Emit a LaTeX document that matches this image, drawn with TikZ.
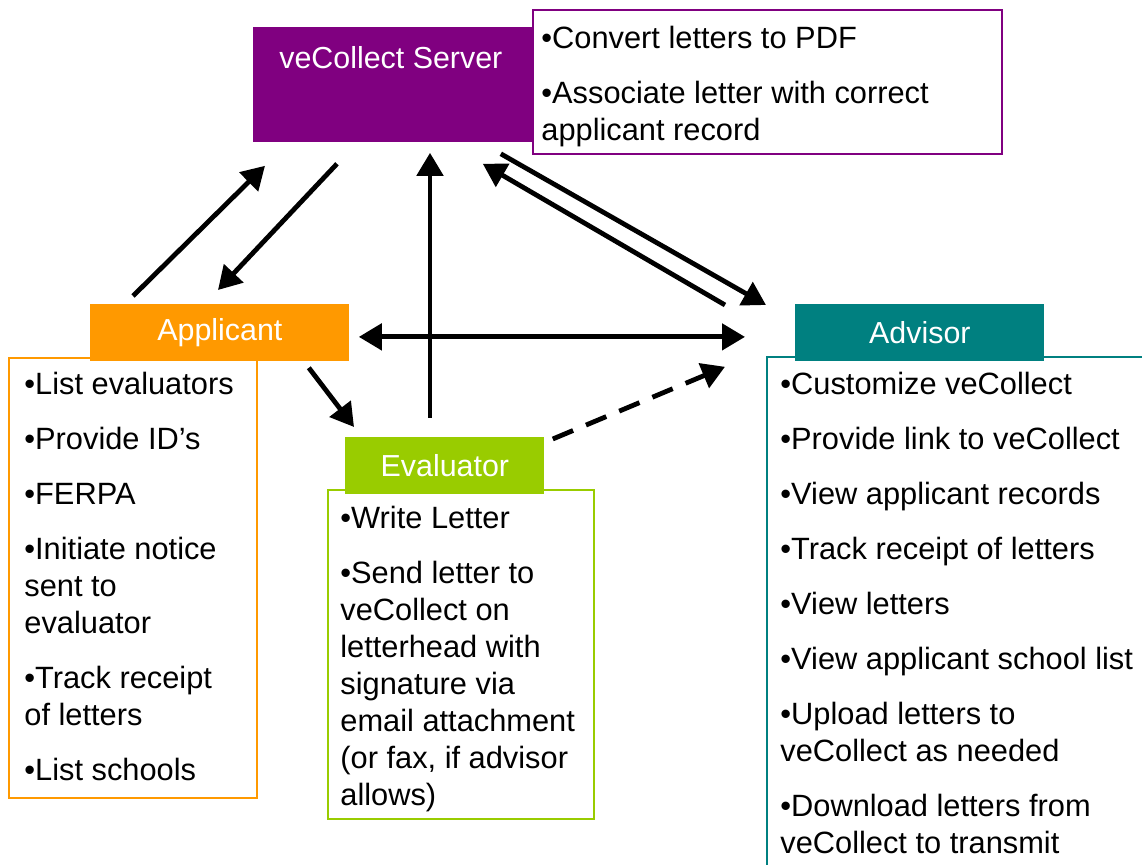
\documentclass[tikz,border=0pt]{standalone}
\usepackage{fontspec}
\setmainfont{Liberation Sans}
\usetikzlibrary{arrows.meta,calc}
\definecolor{srvcol}{HTML}{800080}
\definecolor{appcol}{HTML}{FF9900}
\definecolor{evalcol}{HTML}{99CC00}
\definecolor{advcol}{HTML}{008080}

\begin{document}
\begin{tikzpicture}[x=0.5pt, y=-0.5pt,
    >={Triangle[length=11.5pt,width=13pt]},
    hdr/.style={anchor=north west, inner sep=0pt, text=white, font=\fontsize{15.2}{18}\selectfont},
    box/.style={anchor=north west, draw, line width=1pt, fill=white, inner sep=0pt},
    notes/.style={anchor=north west, align=left, inner sep=0pt, font=\fontsize{15.4}{18.5}\selectfont},
    arr/.style={line width=2.4pt, ->},
  ]
  \useasboundingbox (0,0) rectangle (1142,865);
  \clip (0,0) rectangle (1142,865);

  % server
  \node[box, draw=srvcol, minimum width=234.5pt, minimum height=72pt] (srvbox) at (532,9) {};
  \node[hdr, fill=srvcol, minimum width=139.5pt, minimum height=57.5pt] (srv) at (253,27) {};
  \node[text=white, font=\fontsize{15.2}{18}\selectfont] (srvlbl) at ($(srv.north)+(-2,31)$) {veCollect Server};
  \node[notes] (srvtxt) at ($(srvbox.north west)+(9,17)$) {•Convert letters to PDF\\[9pt]•Associate letter with correct\\applicant record};

  % applicant
  \node[box, draw=appcol, minimum width=124pt, minimum height=220pt] (appbox) at (8,357) {};
  \node[hdr, fill=appcol, minimum width=129.5pt, minimum height=28.5pt] (app) at (90,304) {Applicant};
  \node[notes] (apptxt) at ($(appbox.north west)+(16,15)$) {•List evaluators\\[9pt]•Provide ID’s\\[9pt]•FERPA\\[9pt]•Initiate notice\\sent to\\evaluator\\[9pt]•Track receipt\\of letters\\[9pt]•List schools};

  % evaluator
  \node[box, draw=evalcol, minimum width=133pt, minimum height=164.5pt] (evalbox) at (327,489) {};
  \node[hdr, fill=evalcol, minimum width=99.5pt, minimum height=28.5pt] (eval) at (345,437) {Evaluator};
  \node[notes] (evaltxt) at ($(evalbox.north west)+(13,17)$) {•Write Letter\\[9pt]•Send letter to\\veCollect on\\letterhead with\\signature via\\email attachment\\(or fax, if advisor\\allows)};

  % advisor
  \node[box, draw=advcol, minimum width=200pt, minimum height=272pt] (advbox) at (766,356) {};
  \node[hdr, fill=advcol, minimum width=124.5pt, minimum height=28.5pt] (adv) at (795,304) {Advisor};
  \node[notes] (advtxt) at ($(advbox.north west)+(14,16)$) {•Customize veCollect\\[9pt]•Provide link to veCollect\\[9pt]•View applicant records\\[9pt]•Track receipt of letters\\[9pt]•View letters\\[9pt]•View applicant school list\\[9pt]•Upload letters to\\veCollect as needed\\[9pt]•Download letters from\\veCollect to transmit};

  % flows
  \draw[arr] ($(app.north west)+(43,-8)$) -- ($(srv.south west)+(12,23)$);
  \draw[arr] ($(srv.south west)+(84,21)$) -- ($(app.north west)+(128,-14)$);
  \draw[arr] ($(srv.south east)+(-32,11)$) -- ($(adv.north west)+(-29,1)$);
  \draw[arr] ($(adv.north west)+(-70,1)$) -- ($(srv.south east)+(-50,21)$);
  \draw[arr, <->] ($(app.east)+(9,4)$) -- ($(adv.west)+(-50,4)$);
  \draw[arr] ($(eval.north west)+(85,-19)$) -- ($(srv.south west)+(177,10)$);
  \draw[arr] ($(app.south east)+(-41,6)$) -- ($(eval.north west)+(9,-10)$);
  \draw[arr, dash pattern=on 11pt off 7pt] ($(eval.north east)+(8,2)$) -- ($(adv.south west)+(-70,5)$);
\end{tikzpicture}
\end{document}
